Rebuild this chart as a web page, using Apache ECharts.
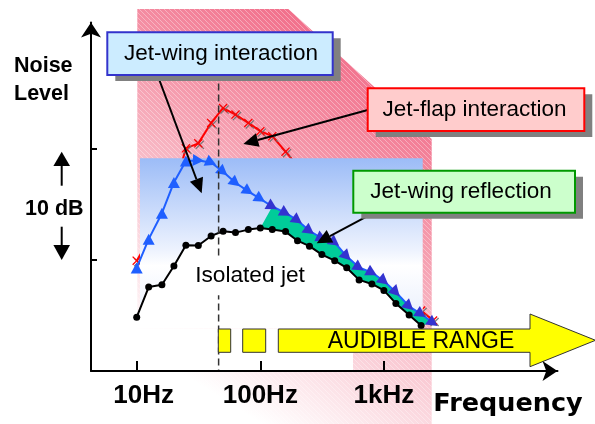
<!DOCTYPE html>
<html><head><meta charset="utf-8">
<script src="https://cdn.jsdelivr.net/npm/echarts@6/dist/echarts.min.js"></script>
<style>html,body{margin:0;padding:0;background:#fff}#c{width:595px;height:424px}</style>
</head><body><div id="c"></div>
<script>
// ---- data (third-octave band centre frequencies, Hz; levels in dB relative) ----
const freqs = [10, 12.5, 16, 20, 25, 31.5, 40, 50, 63, 80, 100, 125, 160, 200, 250, 315, 400, 500, 630, 800, 1000, 1250, 1600, 2000, 2500];
const isolatedJet = [-5.15, -2.44, -2.23, -0.54, 1.34, 1.31, 2.17, 2.59, 2.47, 2.74, 2.88, 2.74, 2.56, 1.74, 1.25, 0.49, -0.06, -0.70, -1.79, -2.16, -2.74, -3.91, -4.96, -5.89];
const jetWing = [-0.71, 1.88, 4.22, 6.99, 8.93, 8.97, 8.78, 7.95, 6.96, 6.19, 5.51, 4.82, 4.24, 3.57, 2.63, 1.96, 1.58, 0.33, -0.67, -1.13, -1.89, -2.90, -4.17, -4.87, -5.65];
const jetFlap = [-0.06, 1.79, 4.0, 6.25, 10.06, 10.51, 12.35, 13.69, 13.10, 12.35, 11.61, 11.16, 9.76, 8.5, 7.1, 5.8, 4.5, 3.1, 1.8, 0.45, -0.9, -2.2, -3.4, -4.55, -5.45];
const xTickValues = [10, 100, 1000];
const xTickLabels = ['10Hz', '100Hz', '1kHz'];
const yTickValues = [0, 10];
const dividerFreq = 46;
const dividerLevels = [15.9, -10];
const reflectionStartIndex = 11;
const peakIndex = 5;
const labels = {
  jetWing: 'Jet-wing interaction',
  jetFlap: 'Jet-flap interaction',
  reflection: 'Jet-wing reflection',
  isolated: 'Isolated jet',
  audible: 'AUDIBLE RANGE',
  yTitle1: 'Noise',
  yTitle2: 'Level',
  dB: '10 dB',
  xTitle: 'Frequency'
};

const FONT = "'Liberation Sans', Arial, Helvetica, sans-serif";
const pairs = (vals) => vals.map((v, i) => [freqs[i], v]);

// hatch pattern for the pink region
const hatch = document.createElement('canvas');
hatch.width = 5; hatch.height = 5;
(function(){
  const g = hatch.getContext('2d');
  g.strokeStyle = 'rgba(255,255,255,0.35)';
  g.lineWidth = 1;
  g.beginPath(); g.moveTo(-1, -1); g.lineTo(6, 6); g.stroke();
})();

function arrowEls(x1, y1, x2, y2, z, len, hw, lw) {
  len = len || 15; hw = hw || 7; lw = lw || 2;
  const dx = x2 - x1, dy = y2 - y1, L = Math.hypot(dx, dy);
  const ux = dx / L, uy = dy / L;
  const bx = x2 - ux * len, by = y2 - uy * len;
  return [
    {type: 'line', z: z, silent: true, shape: {x1: x1, y1: y1, x2: bx, y2: by}, style: {stroke: '#000', lineWidth: lw}},
    {type: 'polygon', z: z, silent: true, shape: {points: [[x2, y2], [bx - uy * hw, by + ux * hw], [bx + uy * hw, by - ux * hw]]}, style: {fill: '#000'}}
  ];
}

function txt(text, x, y, size, opts) {
  opts = opts || {};
  return {
    type: 'text', z: opts.z || 30, silent: true,
    style: Object.assign({
      text: text, x: x, y: y,
      font: (opts.weight || 'normal') + ' ' + size + 'px ' + (opts.family || FONT),
      fill: opts.color || '#000',
      align: opts.align || 'center', verticalAlign: 'middle',
      textAlign: opts.align || 'center', textVerticalAlign: 'middle'
    }, opts.extra || {})
  };
}

function box(x, y, w, h, fill, stroke, text, cx, cy) {
  return [
    {type: 'rect', z: 28, silent: true, shape: {x: x + 8, y: y + 6, width: w, height: h}, style: {fill: '#808080'}},
    {type: 'rect', z: 29, silent: true, shape: {x: x, y: y, width: w, height: h}, style: {fill: fill, stroke: stroke, lineWidth: 2}},
    txt(text, cx, cy, 22.5, {z: 30})
  ];
}

const graphics = [].concat(
  [
    // pink region (gradient + hatch)
    {type: 'polygon', z: 1, silent: true,
      shape: {points: [[137.3, 9], [288.3, 9], [431.7, 139], [431.7, 424], [137.3, 424]]},
      style: {fill: new echarts.graphic.LinearGradient(1, 0, 0.2, 0.9, [
        {offset: 0, color: '#EF5577'}, {offset: 0.45, color: '#F59AAC'}, {offset: 1, color: '#FFFFFF'}])}},
    {type: 'polygon', z: 1, silent: true,
      shape: {points: [[137.3, 9], [288.3, 9], [431.7, 139], [431.7, 424], [137.3, 424]]},
      style: {fill: {type: 'pattern', image: hatch, repeat: 'repeat'}}},
    // blue region
    {type: 'rect', z: 3, silent: true, shape: {x: 140, y: 158.3, width: 282.7, height: 168},
      style: {fill: new echarts.graphic.LinearGradient(0, 0, 0, 1, [
        {offset: 0, color: '#9CBCF7'}, {offset: 0.55, color: '#EEF3FE'}, {offset: 0.64, color: '#FFFFFF'}, {offset: 1, color: '#E6EDFD'}])}},
    // white band behind audible-range row
    {type: 'rect', z: 5, silent: true, shape: {x: 92, y: 329, width: 261, height: 41}, style: {fill: '#FFFFFF'}},
    // audible range
    {type: 'rect', z: 12, silent: true, shape: {x: 218.3, y: 329, width: 12.4, height: 23.3}, style: {fill: '#FFFF00', stroke: '#333', lineWidth: 1}},
    {type: 'rect', z: 12, silent: true, shape: {x: 242.7, y: 329, width: 23, height: 23.3}, style: {fill: '#FFFF00', stroke: '#333', lineWidth: 1}},
    {type: 'polygon', z: 12, silent: true,
      shape: {points: [[278.3, 329], [530, 329], [530, 314], [595.5, 340.3], [530, 366.7], [530, 352.3], [278.3, 352.3]]},
      style: {fill: '#FFFF00', stroke: '#333', lineWidth: 1}},
    txt(labels.audible, 421, 341.7, 23, {z: 13}),
    // isolated jet label
    txt(labels.isolated, 250, 275.7, 22.7, {z: 13, extra: {backgroundColor: '#FFFFFF', padding: [8, 3, 8, 3]}}),
    // axis titles
    txt(labels.yTitle1, 14, 65.8, 21.5, {weight: 'bold', align: 'left'}),
    txt(labels.yTitle2, 14, 94.2, 21.5, {weight: 'bold', align: 'left'}),
    txt(labels.dB, 25, 209.5, 21.5, {weight: 'bold', align: 'left'}),
    txt(labels.xTitle, 508, 404.2, 25.5, {weight: 'bold', family: "'DejaVu Sans', Verdana, sans-serif"}),
    // 10 dB arrows
    {type: 'line', z: 30, silent: true, shape: {x1: 61.7, y1: 165, x2: 61.7, y2: 185.7}, style: {stroke: '#000', lineWidth: 2}},
    {type: 'polygon', z: 30, silent: true, shape: {points: [[61.7, 151.7], [70, 166], [53.4, 166]]}, style: {fill: '#000'}},
    {type: 'line', z: 30, silent: true, shape: {x1: 61.7, y1: 226.7, x2: 61.7, y2: 246}, style: {stroke: '#000', lineWidth: 2}},
    {type: 'polygon', z: 30, silent: true, shape: {points: [[53.4, 245], [70, 245], [61.7, 260]]}, style: {fill: '#000'}}
  ],
  arrowEls(157.5, 75, 201.7, 193.3, 27),
  arrowEls(367.7, 110, 243.3, 144, 27),
  arrowEls(374, 212.7, 316.7, 243.3, 27),
  box(107.3, 32.3, 225.4, 42.7, '#CCECFF', '#3333CC', labels.jetWing, 221, 53.7),
  box(367.7, 88.3, 216.6, 42.7, '#FFCCCC', '#FF0000', labels.jetFlap, 474.5, 109.7),
  box(353.3, 170.7, 221.7, 42, '#CCFFCC', '#009900', labels.reflection, 461, 191.7)
);

const chart = echarts.init(document.getElementById('c'), null, {renderer: 'canvas'});
const option = {
  animation: false,
  backgroundColor: '#FFFFFF',
  grid: {left: 91, right: 37.5, top: 22.5, bottom: 53, containLabel: false, outerBoundsMode: 'none'},
  xAxis: {
    type: 'log', logBase: 10, min: 4.268, max: 25383, z: 20,
    axisLine: {show: true, onZero: false, symbol: ['none', 'arrow'], symbolSize: [15, 15], lineStyle: {color: '#000', width: 2}},
    axisTick: {show: true, inside: true, length: 10, customValues: xTickValues, lineStyle: {color: '#000', width: 2}},
    axisLabel: {
      show: true, customValues: xTickValues, margin: 12, color: '#000',
      fontFamily: FONT, fontWeight: 'bold', fontSize: 26,
      formatter: function (v) {
        const i = xTickValues.findIndex(t => Math.abs(t - v) / t < 1e-6);
        const s = i >= 0 ? xTickLabels[i] : '';
        return i === 0 ? '{a|' + s + '}' : s;
      },
      rich: {a: {fontFamily: FONT, fontWeight: 'bold', fontSize: 26, color: '#000', padding: [0, 0, 0, 14]}}
    },
    splitLine: {show: false}, minorTick: {show: false}, minorSplitLine: {show: false}
  },
  yAxis: {
    type: 'value', min: -10, max: 21.4, z: 20,
    axisLine: {show: true, onZero: false, symbol: ['none', 'arrow'], symbolSize: [15, 15], lineStyle: {color: '#000', width: 2}},
    axisTick: {show: true, inside: true, length: 6, customValues: yTickValues, lineStyle: {color: '#000', width: 2}},
    axisLabel: {show: false},
    splitLine: {show: false}
  },
  graphic: {elements: graphics},
  series: [
    {
      name: labels.jetFlap, type: 'line', z: 2, data: pairs(jetFlap),
      showAllSymbol: true, silent: true,
      symbol: 'path://M1,0L5,4L9,0L10,1L6,5L10,9L9,10L5,6L1,10L0,9L4,5L0,1Z', symbolSize: 9,
      lineStyle: {color: '#FF0000', width: 2},
      itemStyle: {color: '#FF0000', shadowColor: 'rgba(110,110,110,0.9)', shadowOffsetX: 1.5, shadowOffsetY: 1.5, shadowBlur: 0}
    },
    {
      name: labels.isolated + ' area', type: 'line', z: 4, data: pairs(isolatedJet), silent: true,
      symbol: 'none', lineStyle: {width: 0, color: 'rgba(0,0,0,0)'},
      areaStyle: {color: '#FFFFFF', opacity: 1, origin: -6.2}
    },
    {
      name: labels.reflection, type: 'custom', z: 6, clip: false, silent: true,
      data: [[freqs[reflectionStartIndex], jetWing[reflectionStartIndex]]],
      renderItem: function (params, api) {
        const pts = [];
        for (let i = reflectionStartIndex; i < jetWing.length; i++) pts.push(api.coord([freqs[i], jetWing[i]]));
        for (let i = isolatedJet.length - 1; i >= reflectionStartIndex - 1; i--) pts.push(api.coord([freqs[i], isolatedJet[i]]));
        return {type: 'polygon', shape: {points: pts}, style: {fill: '#00CC99'}};
      }
    },
    {
      name: labels.jetWing, type: 'line', z: 7, data: pairs(jetWing),
      showAllSymbol: true, silent: true,
      symbol: 'triangle', symbolSize: [12, 11],
      symbolRotate: function (val, params) {
        const i = params.dataIndex, n = jetWing.length;
        if (i < peakIndex) return 0;
        const a = Math.max(i - 1, 0), b = Math.min(i + 1, n - 1);
        const ang = Math.atan2((jetWing[b] - jetWing[a]) * 11.1, (b - a) * 12.35) * 180 / Math.PI;
        return ang - 90;
      },
      lineStyle: {color: '#1F5FFF', width: 2},
      itemStyle: {color: function (p) { return p.dataIndex >= reflectionStartIndex ? '#3333D0' : '#1F5FFF'; }}
    },
    {
      name: labels.isolated, type: 'line', z: 8, data: pairs(isolatedJet),
      showAllSymbol: true, silent: true,
      symbol: 'circle', symbolSize: 7,
      lineStyle: {color: '#000', width: 2},
      itemStyle: {color: '#000'}
    },
    {
      name: 'divider', type: 'line', z: 10, silent: true,
      data: dividerLevels.map(v => [dividerFreq, v]),
      symbol: 'none',
      lineStyle: {color: '#333', width: 1.5, type: [7, 4]}
    }
  ]
};
chart.setOption(option);
</script></body></html>
